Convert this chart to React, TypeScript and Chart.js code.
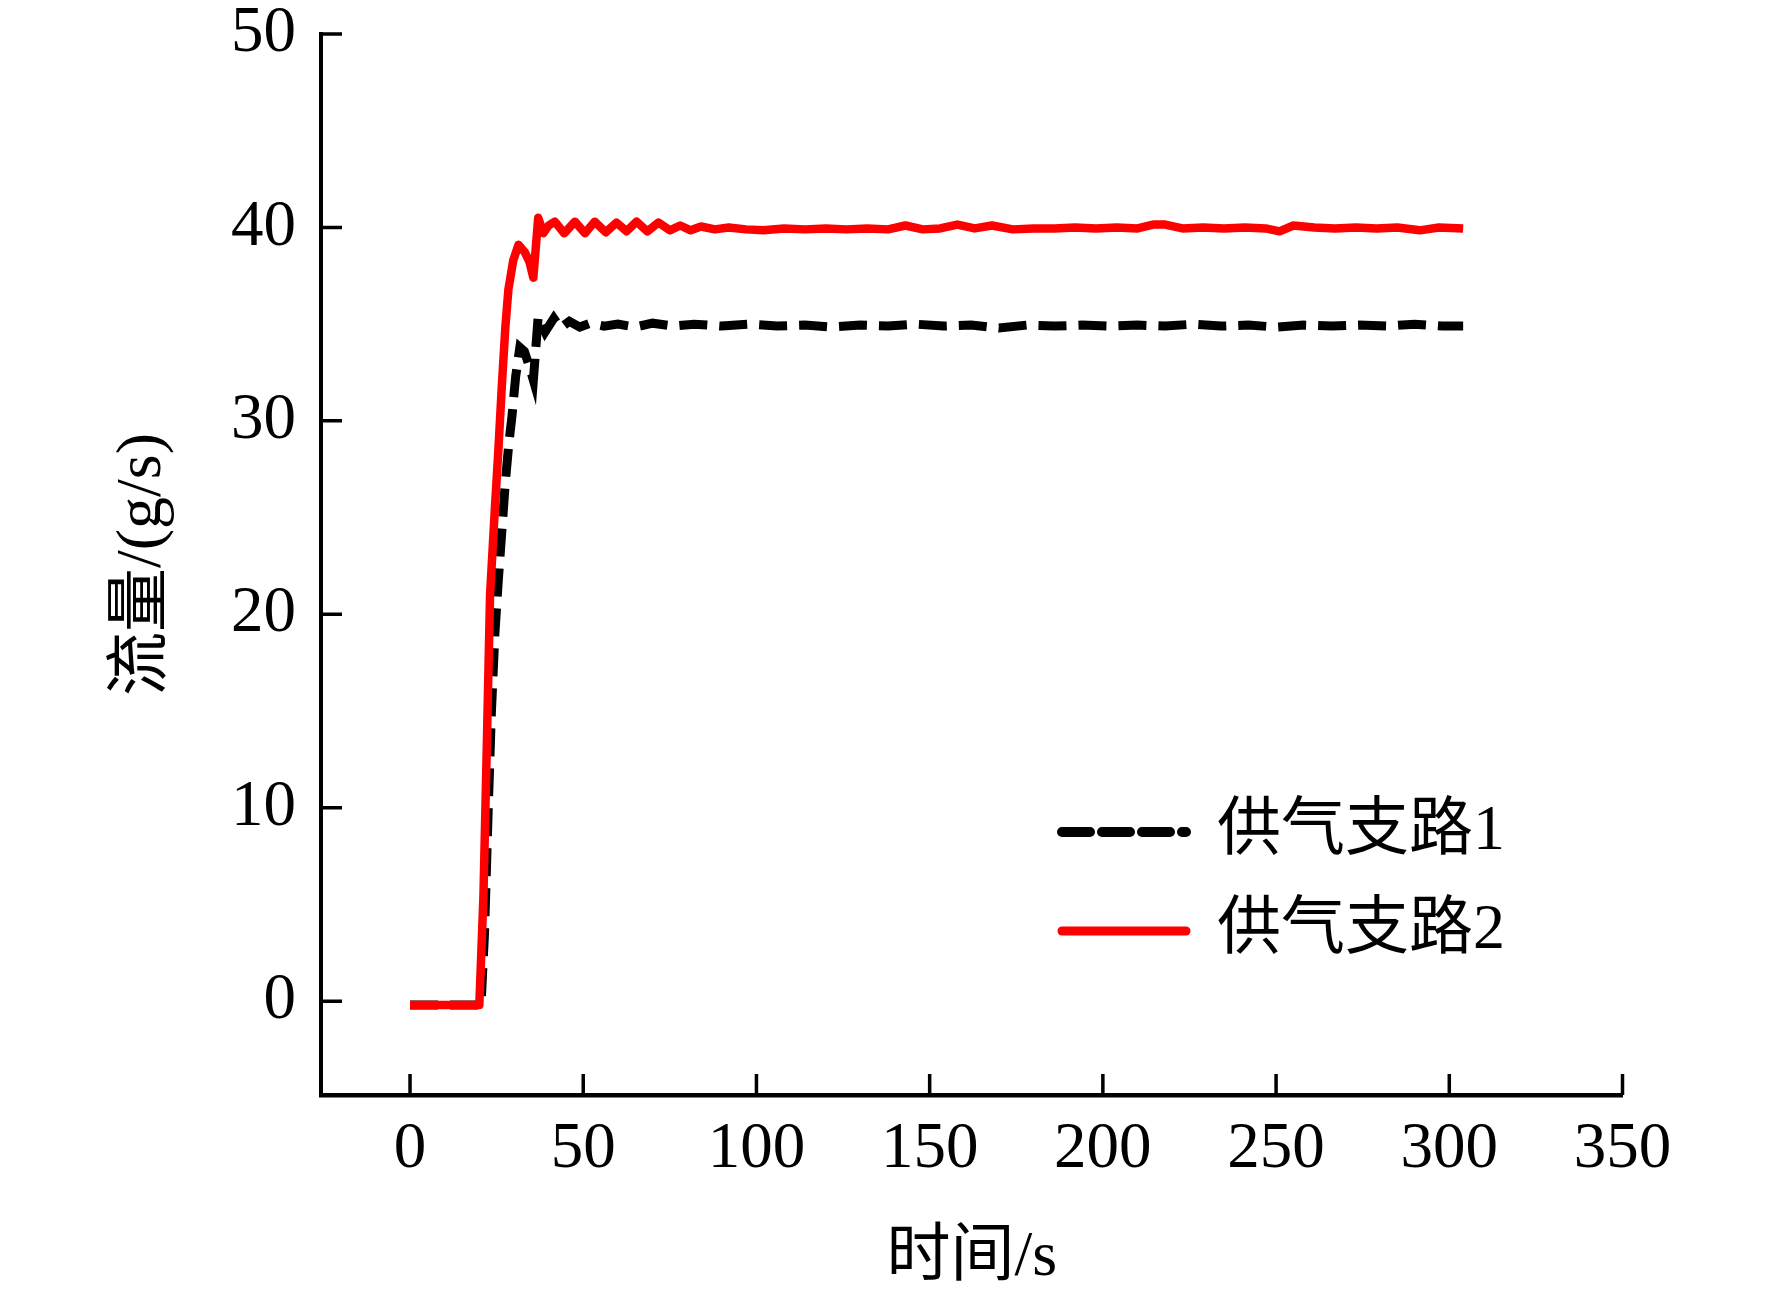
import { useEffect, useRef } from 'react'
import { Chart, registerables } from 'chart.js'

Chart.register(...registerables)

// 供气支路1 (black dashed)
const branch1Time = [0, 5, 10, 15, 20.5, 21.5, 22.5, 23.5, 24.5, 25.5, 26.5, 27.5, 28.5, 29.4, 30.5, 31.7, 33, 34.3, 35.6, 37, 39, 41.5, 43.4, 46, 49, 52, 56, 60, 65, 70, 76, 82, 90, 98, 106, 114, 122, 130, 138, 146, 154, 162, 170, 178, 186, 194, 202, 210, 218, 226, 234, 242, 250, 258, 266, 274, 282, 290, 298, 304]
const branch1Flow = [-0.2, -0.2, -0.2, -0.2, -0.2, 3.5, 9.5, 15, 19, 21.8, 24.3, 26.8, 28.8, 30.2, 32.3, 33.8, 33.6, 32.9, 32.1, 35.4, 34.6, 35.3, 34.8, 35.15, 34.85, 35.05, 34.9, 35.0, 34.85, 35.05, 34.9, 35.0, 34.9, 35.0, 34.9, 34.95, 34.85, 34.95, 34.9, 35.0, 34.9, 34.95, 34.8, 34.95, 34.9, 34.95, 34.9, 34.95, 34.9, 35.0, 34.9, 34.95, 34.85, 34.95, 34.9, 34.95, 34.9, 35.0, 34.9, 34.9]

// 供气支路2 (red solid)
const branch2Time = [0, 5, 10, 15, 20, 21.2, 22.2, 23.1, 24.5, 25.5, 26.5, 27.5, 28.4, 29.8, 31.3, 33.2, 34.5, 35.6, 37, 38.5, 40, 41.8, 44.5, 47.6, 50.5, 53.3, 56.5, 59.6, 62.5, 65.4, 68.5, 71.7, 75, 78, 81, 84, 88, 92, 97, 102, 108, 114, 120, 126, 132, 138, 143, 148, 153, 158, 163, 168, 174, 180, 186, 192, 198, 204, 210, 214.5, 218, 223, 229, 235, 241, 247, 251, 255, 261, 267, 273, 279, 285, 291.5, 297, 304]
const branch2Flow = [-0.2, -0.2, -0.2, -0.2, -0.2, 5.5, 13.5, 21, 25.5, 28.5, 31.8, 34.8, 36.8, 38.3, 39.1, 38.7, 38.2, 37.4, 40.5, 39.7, 40.1, 40.3, 39.7, 40.3, 39.7, 40.3, 39.75, 40.25, 39.8, 40.3, 39.8, 40.25, 39.85, 40.1, 39.85, 40.05, 39.9, 40.0, 39.9, 39.85, 39.95, 39.9, 39.95, 39.9, 39.95, 39.9, 40.1, 39.9, 39.95, 40.15, 39.95, 40.1, 39.9, 39.95, 39.95, 40.0, 39.95, 40.0, 39.95, 40.15, 40.15, 39.95, 40.0, 39.95, 40.0, 39.95, 39.8, 40.1, 40.0, 39.95, 40.0, 39.95, 40.0, 39.85, 40.0, 39.95]

const seriesLabels = ['供气支路1', '供气支路2']
const xTicks = [0, 50, 100, 150, 200, 250, 300, 350]
const yTicks = [0, 10, 20, 30, 40, 50]

const FONT = '"Liberation Serif", "Times New Roman", "Noto Sans CJK SC", serif'

const innerTicks = {
  id: 'innerTicks',
  afterDraw(chart: any) {
    const { ctx, chartArea, scales } = chart
    ctx.save()
    ctx.strokeStyle = '#000'
    ctx.lineWidth = 3.5
    ctx.beginPath()
    scales.x.ticks.forEach((t: any) => {
      const px = scales.x.getPixelForValue(t.value)
      ctx.moveTo(px, chartArea.bottom)
      ctx.lineTo(px, chartArea.bottom - 21)
    })
    scales.y.ticks.forEach((t: any) => {
      const py = scales.y.getPixelForValue(t.value)
      ctx.moveTo(chartArea.left, py)
      ctx.lineTo(chartArea.left + 21, py)
    })
    ctx.stroke()
    ctx.restore()
  }
}

const lineLegend = {
  id: 'lineLegend',
  afterDraw(chart: any) {
    const { ctx } = chart
    const x0 = 1062
    const x1 = 1186
    const textX = 1217
    const rows = [832, 931]
    ctx.save()
    chart.data.datasets.forEach((ds: any, i: number) => {
      const y = rows[i]
      ctx.beginPath()
      ctx.strokeStyle = ds.borderColor
      ctx.lineWidth = i === 0 ? 10 : 9
      ctx.lineCap = 'round'
      ctx.setLineDash(ds.borderDash || [])
      ctx.moveTo(x0, y)
      ctx.lineTo(x1, y)
      ctx.stroke()
      ctx.setLineDash([])
      ctx.fillStyle = '#000'
      ctx.font = `64px ${FONT}`
      ctx.textBaseline = 'middle'
      ctx.textAlign = 'left'
      ctx.fillText(ds.label, textX, y)
    })
    ctx.restore()
  }
}

export default function App() {
  const canvasRef = useRef<HTMLCanvasElement>(null)

  useEffect(() => {
    if (!canvasRef.current) return

    const chart = new Chart(canvasRef.current, {
      type: 'line',
      data: {
        datasets: [
          {
            label: seriesLabels[0],
            data: branch1Time.map((t, i) => ({ x: t, y: branch1Flow[i] })),
            borderColor: '#000000',
            borderWidth: 9,
            borderDash: [28, 12],
            pointRadius: 0,
            tension: 0,
            order: 1
          },
          {
            label: seriesLabels[1],
            data: branch2Time.map((t, i) => ({ x: t, y: branch2Flow[i] })),
            borderColor: '#ff0000',
            borderWidth: 8.5,
            borderJoinStyle: 'round',
            pointRadius: 0,
            tension: 0,
            order: 0
          }
        ]
      },
      options: {
        animation: false,
        responsive: true,
        maintainAspectRatio: false,
        layout: { padding: { top: 34, right: 149.5, left: 0, bottom: 0 } },
        plugins: {
          legend: { display: false },
          tooltip: { enabled: false }
        },
        scales: {
          x: {
            type: 'linear',
            min: -25.7,
            max: 350,
            afterBuildTicks: (scale: any) => {
              scale.ticks = xTicks.map(value => ({ value }))
            },
            afterFit: (scale: any) => {
              scale.height = 200
              scale.paddingLeft = 0
              scale.paddingRight = 0
            },
            grid: { display: false, drawTicks: false, tickLength: 0 },
            border: { display: true, color: '#000', width: 4.5 },
            ticks: {
              color: '#000',
              font: { family: FONT, size: 65 },
              padding: 16,
              autoSkip: false,
              maxRotation: 0
            },
            title: {
              display: true,
              text: '时间/s',
              color: '#000',
              font: { family: FONT, size: 64 },
              padding: { top: 0, bottom: -2 }
            }
          },
          y: {
            type: 'linear',
            min: -4.85,
            max: 50,
            afterBuildTicks: (scale: any) => {
              scale.ticks = yTicks.map(value => ({ value }))
            },
            afterFit: (scale: any) => {
              scale.width = 321
              scale.paddingTop = 0
              scale.paddingBottom = 0
            },
            grid: { display: false, drawTicks: false, tickLength: 0 },
            border: { display: true, color: '#000', width: 4 },
            ticks: {
              color: '#000',
              font: { family: FONT, size: 65 },
              padding: 25,
              autoSkip: false
            },
            title: {
              display: true,
              text: '流量/(g/s)',
              color: '#000',
              font: { family: FONT, size: 64 },
              padding: { top: 105, bottom: 0 }
            }
          }
        }
      } as any,
      plugins: [innerTicks, lineLegend]
    })

    return () => {
      chart.destroy()
    }
  }, [])

  return (
    <div style={{ position: 'fixed', left: 0, top: 0, width: 1772, height: 1295, background: '#fff' }}>
      <canvas ref={canvasRef} />
    </div>
  )
}
